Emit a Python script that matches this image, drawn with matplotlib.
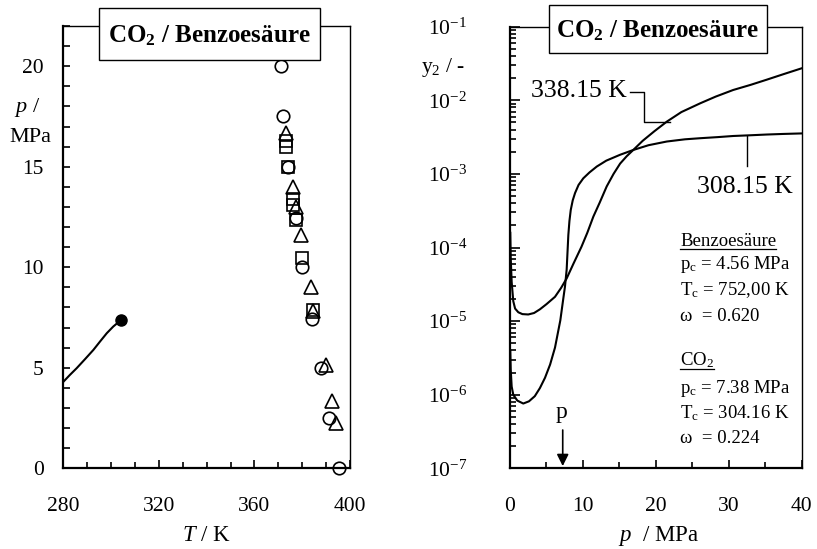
import numpy as np
import matplotlib
matplotlib.use("Agg")
import matplotlib.pyplot as plt
from matplotlib.patches import Rectangle
from matplotlib.lines import Line2D
from matplotlib.ticker import FixedLocator, MultipleLocator, LogLocator, NullFormatter

plt.rcParams['font.family'] = ['Liberation Serif', 'DejaVu Serif']
plt.rcParams['mathtext.fontset'] = 'custom'
plt.rcParams['mathtext.rm'] = 'Liberation Serif'
plt.rcParams['mathtext.it'] = 'Liberation Serif:italic'
plt.rcParams['mathtext.bf'] = 'Liberation Serif:bold'

# ---- left panel: solid-liquid-gas data for CO2 / benzoic acid ----
circle_T = [371.1, 372.1, 374.2, 377.4, 380.0, 384.0, 387.7, 391.3, 395.5]
circle_p = [20.0, 17.5, 15.0, 12.45, 10.0, 7.42, 4.97, 2.48, 0.0]
square_T = [373.2, 373.2, 374.2, 376.3, 376.3, 377.4, 380.0, 384.4]
square_p = [16.26, 16.0, 15.0, 13.4, 13.1, 12.37, 10.46, 7.88]
tri_T = [373.2, 376.0, 377.4, 379.4, 383.6, 384.4, 390.0, 392.4, 394.2]
tri_p = [16.7, 14.0, 13.0, 11.6, 9.03, 7.8, 5.14, 3.37, 2.27]

# CO2 vapour pressure curve ending at the critical point
vp_T = [280.0, 282.8, 285.6, 289.1, 292.6, 295.4, 298.2, 300.9, 304.2]
vp_p = [4.3, 4.65, 4.98, 5.43, 5.89, 6.31, 6.72, 7.05, 7.38]

xticks_left = [280, 320, 360, 400]
yticks_left = [0, 5, 10, 15, 20]

# ---- right panel: solubility y2 of benzoic acid in CO2 ----
p_338 = [0.04, 0.1, 0.23, 0.45, 0.7, 1.14, 1.7, 2.5, 3.3, 4.1, 5.0, 6.17, 7.0, 7.77,
         8.7, 9.8, 10.6, 11.43, 12.3, 13.26, 14.2, 15.1, 16.0, 16.9, 18.2, 19.8,
         21.5, 23.5, 26.1, 28.2, 30.6, 33.0, 35.2, 37.5, 40.0]
log_y2_338 = [-3.8, -4.15, -4.47, -4.73, -4.83, -4.88, -4.905, -4.91, -4.89, -4.84,
              -4.77, -4.67, -4.55, -4.42, -4.22, -3.99, -3.80, -3.58, -3.39, -3.17,
              -3.00, -2.86, -2.76, -2.675, -2.55, -2.42, -2.29, -2.16, -2.04, -1.95,
              -1.86, -1.79, -1.72, -1.645, -1.565]

p_308 = [0.04, 0.1, 0.23, 0.45, 1.0, 1.82, 2.6, 3.4, 4.1, 4.8, 5.5, 6.17, 6.9, 7.3,
         7.54, 7.77, 8.0, 8.15, 8.33, 8.6, 8.92, 9.4, 10.05, 10.9, 11.9, 13.2, 15.1,
         16.9, 19.0, 21.5, 24.0, 26.1, 28.5, 30.6, 33.0, 35.2, 37.5, 40.0]
log_y2_308 = [-5.4, -5.66, -5.89, -6.0, -6.08, -6.12, -6.09, -6.02, -5.91, -5.77,
              -5.59, -5.36, -4.99, -4.70, -4.53, -4.30, -3.83, -3.64, -3.49, -3.36,
              -3.26, -3.15, -3.06, -2.98, -2.90, -2.82, -2.74, -2.675, -2.61, -2.56,
              -2.53, -2.515, -2.50, -2.485, -2.475, -2.465, -2.457, -2.45]

xticks_right = [0, 10, 20, 30, 40]
ytick_exponents = [-7, -6, -5, -4, -3, -2, -1]
p_c_co2_arrow = 7.23

W, H = 817, 549
fig = plt.figure(figsize=(W / 100, H / 100), dpi=100)


def fx(px):
    return px / W


def fy(py):
    return 1 - py / H


axL = fig.add_axes([fx(63.3), fy(468.3), fx(350) - fx(63.3), fy(26) - fy(468.3)])
axR = fig.add_axes([fx(510), fy(468.3), fx(801.7) - fx(510), fy(26.7) - fy(468.3)])

for ax in (axL, axR):
    ax.spines['left'].set_linewidth(1.6)
    ax.spines['bottom'].set_linewidth(1.6)
    ax.spines['top'].set_linewidth(1.0)
    ax.spines['right'].set_linewidth(1.0)
    ax.tick_params(which='both', direction='in', top=False, right=False,
                   width=1.2, labelsize=15.5)

# ---------------- left panel ----------------
axL.plot(vp_T, vp_p, color='black', lw=1.5)
axL.plot([vp_T[-1]], [vp_p[-1]], 'o', color='black', ms=8)
axL.plot(circle_T, circle_p, ls='none', marker='o', mfc='none', mec='black',
         ms=9, mew=1.2, clip_on=False)
axL.plot(square_T, square_p, ls='none', marker='s', mfc='none', mec='black',
         ms=8.5, mew=1.2, clip_on=False)
axL.plot(tri_T, tri_p, ls='none', marker='^', mfc='none', mec='black',
         ms=9.5, mew=1.2, clip_on=False)

axL.set_xlim(280, 400)
axL.set_ylim(0, 22)
axL.xaxis.set_major_locator(FixedLocator(xticks_left))
axL.xaxis.set_minor_locator(MultipleLocator(10))
axL.yaxis.set_major_locator(FixedLocator(yticks_left))
axL.yaxis.set_minor_locator(MultipleLocator(1))
axL.tick_params(axis='x', which='major', length=6, pad=21)
axL.tick_params(axis='x', which='minor', length=4)
axL.tick_params(axis='y', which='both', length=5, pad=14)

fig.text(fx(27.5), fy(111.7), r"$p$ /", ha='center', va='baseline', fontsize=16)
fig.text(fx(30), fy(141.7), "MPa", ha='center', va='baseline', fontsize=16)
fig.text(fx(206.7), fy(541), r"$T$ / K", ha='center', va='baseline', fontsize=16.5)

# ---------------- right panel ----------------
axR.plot(p_338, 10 ** np.array(log_y2_338), color='black', lw=1.5)
axR.plot(p_308, 10 ** np.array(log_y2_308), color='black', lw=1.5)
axR.set_yscale('log')
axR.set_xlim(0, 40)
axR.set_ylim(1e-7, 1e-1)
axR.xaxis.set_major_locator(FixedLocator(xticks_right))
axR.xaxis.set_minor_locator(MultipleLocator(5))
axR.yaxis.set_major_locator(FixedLocator([10.0 ** e for e in ytick_exponents]))
axR.set_yticklabels([r"$10^{%d}$" % e for e in ytick_exponents])
axR.yaxis.set_minor_locator(LogLocator(base=10, subs=np.arange(2, 10)))
axR.yaxis.set_minor_formatter(NullFormatter())
axR.tick_params(axis='x', which='major', length=6, pad=21)
axR.tick_params(axis='x', which='minor', length=4)
axR.tick_params(axis='y', which='major', length=7, pad=31)
axR.tick_params(axis='y', which='minor', length=4.5)

fig.text(fx(443), fy(72), r"y$_\mathrm{2}$ / -", ha='center', va='baseline', fontsize=15.5)
fig.text(fx(658.3), fy(541), r"$p$  / MPa", ha='center', va='baseline', fontsize=16.5)

# curve labels with leader lines
fig.text(fx(626.7), fy(96.7), "338.15 K", ha='right', va='baseline', fontsize=18.5)
axR.plot([16.46, 18.42, 18.42, 21.95],
         [10 ** -1.883, 10 ** -1.883, 10 ** -2.291, 10 ** -2.291],
         color='black', lw=1.0)
fig.text(fx(745), fy(193.3), "308.15 K", ha='center', va='baseline', fontsize=18.5)
axR.plot([32.47, 32.47], [10 ** -2.48, 10 ** -2.889], color='black', lw=1.0)

# critical pressure of CO2 marker
fig.text(fx(562), fy(418), "p", ha='center', va='baseline', fontsize=17)
axR.annotate("", xy=(p_c_co2_arrow, 10 ** -6.97), xytext=(p_c_co2_arrow, 10 ** -6.48),
             arrowprops=dict(arrowstyle='-|>,head_length=0.5,head_width=0.25',
                             color='black', lw=1.2, shrinkA=0, shrinkB=0,
                             mutation_scale=14))

# pure-component parameters
fs_info = 13.5
x_info = fx(680)
t_benz = fig.text(x_info, fy(246), "Benzoesäure", va='baseline', fontsize=fs_info)
fig.text(x_info, fy(269), r"p$_\mathrm{c}$ = 4.56 MPa", va='baseline', fontsize=fs_info)
fig.text(x_info, fy(295), r"T$_\mathrm{c}$ = 752,00 K", va='baseline', fontsize=fs_info)
fig.text(x_info, fy(321), "ω  = 0.620", va='baseline', fontsize=fs_info)
t_co2 = fig.text(x_info, fy(365.5), r"CO$_\mathrm{2}$", va='baseline', fontsize=fs_info)
fig.text(x_info, fy(393.3), r"p$_\mathrm{c}$ = 7.38 MPa", va='baseline', fontsize=fs_info)
fig.text(x_info, fy(418.3), r"T$_\mathrm{c}$ = 304.16 K", va='baseline', fontsize=fs_info)
fig.text(x_info, fy(443.3), "ω  = 0.224", va='baseline', fontsize=fs_info)

# title boxes straddling the top spines
title = r"CO$_\mathbf{2}$ / Benzoesäure"
for (x0, y0, x1, y1), (tx, ty) in [((99.3, 8.3, 320, 60), (209.7, 42.7)),
                                   ((549.3, 5, 766.7, 53.3), (657.5, 37.3))]:
    rect = Rectangle((fx(x0), fy(y1)), fx(x1) - fx(x0), fy(y0) - fy(y1),
                     transform=fig.transFigure, facecolor='white',
                     edgecolor='black', lw=1.0, zorder=10)
    fig.add_artist(rect)
    fig.text(fx(tx), fy(ty), title, ha='center', va='baseline', fontsize=18,
             fontweight='bold', zorder=11)

# underline the component names
fig.canvas.draw()
renderer = fig.canvas.get_renderer()
for t, yline in ((t_benz, 248.5), (t_co2, 368.5)):
    bb = t.get_window_extent(renderer)
    fig.add_artist(Line2D([bb.x0 / W, bb.x1 / W], [fy(yline), fy(yline)],
                          transform=fig.transFigure, color='black', lw=0.9))

fig.savefig("out.png", dpi=100)
